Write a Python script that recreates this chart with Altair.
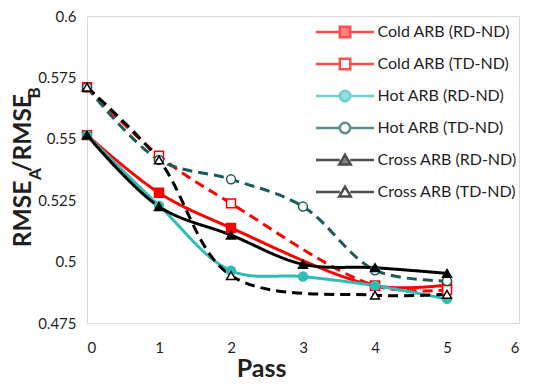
import altair as alt
import pandas as pd

# ---------------- data ----------------
passes = [0, 1, 2, 3, 4, 5]
series_names = [
    "Cold ARB (RD-ND)",
    "Cold ARB (TD-ND)",
    "Hot ARB (RD-ND)",
    "Hot ARB (TD-ND)",
    "Cross ARB (RD-ND)",
    "Cross ARB (TD-ND)",
]
cold_rd = [0.5515, 0.528, 0.5137, None, 0.4902, 0.4905]
cold_td = [0.571, 0.5431, 0.5237, None, 0.4902, 0.4884]
hot_rd = [0.5515, 0.5228, 0.4963, 0.4939, 0.4902, 0.4848]
hot_td = [0.571, 0.5414, 0.5335, 0.5224, 0.4965, 0.4921]
cross_rd = [0.5515, 0.5224, 0.5108, 0.4989, 0.4975, 0.4952]
cross_td = [0.571, 0.5414, 0.4943, None, 0.4863, 0.4867]
all_values = [cold_rd, cold_td, hot_rd, hot_td, cross_rd, cross_td]

x_ticks = [0, 1, 2, 3, 4, 5, 6]
y_ticks = [0.475, 0.5, 0.525, 0.55, 0.575, 0.6]

# ---------------- styles ----------------
stroke_colors = ["#FF0000", "#FF0000", "#2EBDB6", "#1C5B56", "#000000", "#000000"]
fill_colors = ["#FF0000", "#FFFFFF", "#2EBDB6", "#FFFFFF", "#000000", "#FFFFFF"]
marker_shapes = ["square", "square", "circle", "circle", "triangle-up", "triangle-up"]
dash_patterns = [[1, 0], [10, 6], [1, 0], [10, 6], [1, 0], [10, 6]]
line_widths = [3, 3, 2, 3, 3, 3]

r = 0.18
seg = f"M-1,0H-{r}M{r},0H1"
legend_paths = {
    "square": f"{seg}M-{r},-{r}H{r}V{r}H-{r}Z",
    "circle": f"{seg}M-{r},0A{r},{r} 0 1,0 {r},0A{r},{r} 0 1,0 -{r},0Z",
    "triangle-up": f"{seg}M0,-{r}L{r * 1.1},{r * 0.85}L-{r * 1.1},{r * 0.85}Z",
}
legend_shapes = [legend_paths[s] for s in marker_shapes]

rows = []
for name, vals in zip(series_names, all_values):
    for p, v in zip(passes, vals):
        if v is not None:
            rows.append({"Pass": p, "value": v, "series": name})
df = pd.DataFrame(rows)

FONT = "Lato"
TXT = "#1f1f1f"

x_enc = alt.X(
    "Pass:Q",
    scale=alt.Scale(domain=[0, 6], nice=False),
    axis=alt.Axis(
        values=x_ticks, format="d", ticks=False, domain=False, grid=False,
        labelPadding=17, labelFontSize=15, labelFont=FONT, labelColor=TXT,
        title="Pass", titleFont=FONT, titleFontSize=25, titleFontWeight="bold",
        titleColor=TXT, titleX=174, titleY=53, titleBaseline="alphabetic",
        titleAlign="center", titleAngle=0,
    ),
)
y_enc = alt.Y(
    "value:Q",
    scale=alt.Scale(domain=[0.475, 0.6], nice=False, zero=False),
    axis=alt.Axis(
        values=y_ticks, format=".3~f", ticks=False, domain=False, grid=False,
        labelPadding=11, labelFontSize=15, labelFont=FONT, labelColor=TXT,
        title=None,
    ),
)

base = alt.Chart(df)

lines = base.mark_line(interpolate="catmull-rom").encode(
    x=x_enc,
    y=y_enc,
    stroke=alt.Stroke("series:N", scale=alt.Scale(domain=series_names, range=stroke_colors), legend=None),
    strokeDash=alt.StrokeDash("series:N", scale=alt.Scale(domain=series_names, range=dash_patterns), legend=None),
    strokeWidth=alt.StrokeWidth("series:N", scale=alt.Scale(domain=series_names, range=line_widths), legend=None),
)

points = base.mark_point(filled=True, size=80, strokeWidth=1.5, opacity=1).encode(
    x=x_enc,
    y=y_enc,
    shape=alt.Shape("series:N", scale=alt.Scale(domain=series_names, range=marker_shapes), legend=None),
    fill=alt.Fill("series:N", scale=alt.Scale(domain=series_names, range=fill_colors), legend=None),
    stroke=alt.Stroke("series:N", scale=alt.Scale(domain=series_names, range=stroke_colors), legend=None),
)

legend_layer = base.mark_point(filled=True).transform_filter("false").encode(
    x=x_enc,
    y=y_enc,
    shape=alt.Shape("series:N", scale=alt.Scale(domain=series_names, range=legend_shapes), legend=alt.Legend(title=None)),
    fill=alt.Fill("series:N", scale=alt.Scale(domain=series_names, range=fill_colors), legend=alt.Legend(title=None)),
    stroke=alt.Stroke("series:N", scale=alt.Scale(domain=series_names, range=stroke_colors), legend=alt.Legend(title=None)),
)

one = alt.Data(values=[{}])
title_parts = [
    ("RMSE", 24.5, -63.5, 198),
    ("A", 17, -51, 158),
    ("/RMSE", 24.5, -63.5, 117),
    ("B", 17, -52, 77),
]
title_layers = [
    alt.Chart(one).mark_text(
        text=t, angle=270, font=FONT, fontSize=fs, fontWeight="bold",
        align="center", baseline="middle", color=TXT,
    ).encode(x=alt.value(xx), y=alt.value(yy))
    for t, fs, xx, yy in title_parts
]

chart = (
    alt.layer(lines, points, legend_layer, *title_layers)
    .resolve_scale(
        stroke="independent", fill="independent", shape="independent",
        strokeDash="independent", strokeWidth="independent",
    )
    .properties(
        width=432, height=307,
        autosize=alt.AutoSizeParams(type="none"),
        padding={"left": 79, "top": 8, "right": 14, "bottom": 58},
    )
    .configure_view(stroke="#d9d9d9", strokeWidth=1)
    .configure_legend(
        orient="none", legendX=227.5, legendY=6, padding=0, offset=0,
        clipHeight=20, rowPadding=12, symbolSize=3364, symbolStrokeWidth=2.5,
        labelFont=FONT, labelFontSize=16, labelColor=TXT, labelOffset=2,
        labelLimit=220,
    )
)

chart.save("out.html", embed_options={"renderer": "svg", "actions": False})
